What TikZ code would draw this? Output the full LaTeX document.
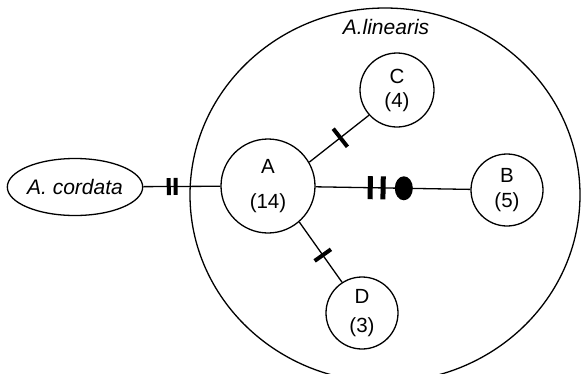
\documentclass[tikz,border=0pt]{standalone}
\usepackage{fontspec}
\setmainfont{Liberation Sans}
\usetikzlibrary{shapes.geometric}
\tikzset{
  taxon/.style   ={ellipse, draw, line width=1.3pt, inner sep=0pt,
                   font=\fontsize{21}{25}\selectfont\itshape},
  hapl/.style    ={circle, draw, line width=1.3pt, inner sep=0pt, minimum size=#1,
                   align=center, font=\fontsize{20.5}{24}\selectfont},
  link/.style    ={line width=1.3pt},
  tickbar/.style ={rectangle, fill=black, sloped, inner sep=0pt, minimum width=4pt, minimum height=#1},
  wbar/.style    ={rectangle, fill=black, sloped, inner sep=0pt, minimum width=5pt, minimum height=23pt},
  blob/.style    ={ellipse, fill=black, inner sep=0pt, minimum width=18pt, minimum height=24pt},
}
\begin{document}
\begin{tikzpicture}[x=1pt, y=-1pt]
\useasboundingbox (0,0) rectangle (582,373);
% species outlines
\node[taxon, minimum width=390pt, minimum height=374pt] (linearis) at (385,195) {};
\node[font=\fontsize{21}{25}\selectfont\itshape] (linlabel) at (386,27) {A.linearis};
\node[taxon, minimum width=134pt, minimum height=57pt] (cordata) at (75,187) {A. cordata};
% haplotypes
\node[hapl=94pt] (A) at (268,186) {A\\[11pt](14)};
\node[hapl=72pt] (B) at (507,190) {B\\[1pt](5)};
\node[hapl=74pt] (C) at (397,90) {C\\[0pt](4)};
\node[hapl=72pt] (D) at (362,313) {D\\[5pt](3)};
% mutational steps
\draw[link] (cordata) -- (A)
  node[tickbar=17pt, pos=0.33] (m1) {} node[tickbar=17pt, pos=0.42] (m2) {};
\draw[link] (A) -- (B)
  node[wbar, pos=0.353] (m3) {} node[wbar, pos=0.436] (m4) {} node[blob, pos=0.57] (ind) {};
\draw[link] (A.30) -- (C.222) node[tickbar=23pt, pos=0.52] (m5) {};
\draw[link] (A.-49) -- (D.123) node[tickbar=20pt, pos=0.55] (m6) {};
\end{tikzpicture}
\end{document}
